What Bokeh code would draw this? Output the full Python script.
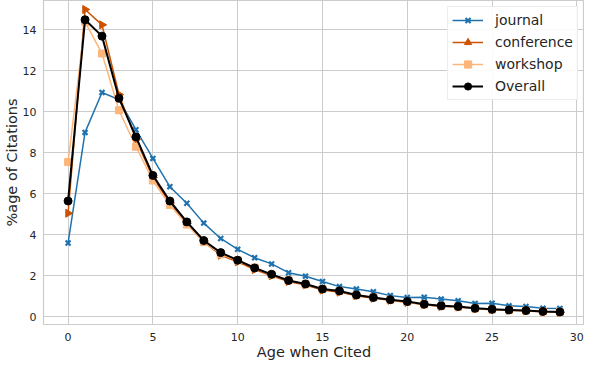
import math
from bokeh.plotting import figure
from bokeh.models import Range1d, Legend, FixedTicker, ColumnDataSource
from bokeh.embed import file_html
from bokeh.resources import INLINE

age = list(range(30))
journal = [3.6, 9.0, 10.95, 10.6, 9.13, 7.73, 6.35, 5.54, 4.57, 3.82, 3.29, 2.88, 2.58,
           2.15, 1.98, 1.72, 1.47, 1.35, 1.22, 1.03, 0.94, 0.95, 0.86, 0.78, 0.65, 0.66,
           0.53, 0.5, 0.41, 0.40]
conference = [5.05, 15.0, 14.25, 10.85, 8.65, 6.8, 5.55, 4.55, 3.65, 3.0, 2.68, 2.3, 2.0,
              1.72, 1.55, 1.3, 1.2, 1.02, 0.9, 0.8, 0.7, 0.58, 0.5, 0.47, 0.39, 0.34,
              0.31, 0.28, 0.24, 0.21]
workshop = [7.55, 14.4, 12.85, 10.08, 8.3, 6.65, 5.45, 4.5, 3.65, 3.05, 2.75, 2.4, 2.05,
            1.78, 1.58, 1.35, 1.25, 1.05, 0.95, 0.82, 0.72, 0.6, 0.52, 0.48, 0.4, 0.35,
            0.32, 0.3, 0.26, 0.22]
overall = [5.65, 14.5, 13.7, 10.67, 8.78, 6.9, 5.65, 4.63, 3.72, 3.13, 2.76, 2.38, 2.07,
           1.77, 1.6, 1.35, 1.26, 1.06, 0.94, 0.83, 0.74, 0.61, 0.53, 0.5, 0.41, 0.36,
           0.33, 0.3, 0.26, 0.23]
x_ticks = [0, 5, 10, 15, 20, 25, 30]
y_ticks = [0, 2, 4, 6, 8, 10, 12, 14]

C_J = "#1f72ad"
C_C = "#cc5200"
C_W = "#fdb57a"
C_O = "#000000"

p = figure(width=584, height=362, output_backend="svg", toolbar_location=None,
           x_range=Range1d(-1.45, 30.45), y_range=Range1d(-0.38, 15.44),
           min_border_left=0, min_border_right=0, min_border_top=0, min_border_bottom=0)
p.background_fill_color = "white"
p.outline_line_color = "#cccccc"
p.outline_line_width = 1.2

for ax in (p.xaxis[0], p.yaxis[0]):
    ax.axis_line_color = None
    ax.major_tick_line_color = None
    ax.minor_tick_line_color = None
    ax.major_tick_in = 0
    ax.major_tick_out = 0
    ax.minor_tick_in = 0
    ax.minor_tick_out = 0
    ax.major_label_text_font = "DejaVu Sans"
    ax.major_label_text_font_size = "11px"
    ax.major_label_text_color = "#262626"
    ax.axis_label_text_font = "DejaVu Sans"
    ax.axis_label_text_font_size = "14.5px"
    ax.axis_label_text_font_style = "normal"
    ax.axis_label_text_color = "#262626"

p.xaxis.ticker = FixedTicker(ticks=x_ticks)
p.yaxis.ticker = FixedTicker(ticks=y_ticks)
p.xaxis.axis_label = "Age when Cited"
p.yaxis.axis_label = "%age of Citations"
p.xaxis.major_label_standoff = 8
p.yaxis.major_label_standoff = 7
p.xaxis.axis_label_standoff = 0
p.yaxis.axis_label_standoff = 0
p.grid.grid_line_color = "#cccccc"
p.grid.grid_line_width = 1

src = ColumnDataSource(dict(age=age, journal=journal, conference=conference,
                            workshop=workshop, overall=overall,
                            ang=[-math.pi / 2] * len(age)))

items = []
lj = p.line("age", "journal", source=src, line_color=C_J, line_width=1.5)
mj = p.scatter("age", "journal", source=src, marker="x", size=7, line_color=C_J, line_width=2.2)
items.append(("journal", [lj, mj]))
lc = p.line("age", "conference", source=src, line_color=C_C, line_width=1.5)
mc = p.scatter("age", "conference", source=src, marker="triangle", angle="ang", size=8,
               fill_color=C_C, line_color=C_C)
items.append(("conference", [lc, mc]))
lw = p.line("age", "workshop", source=src, line_color=C_W, line_width=1.5)
mw = p.scatter("age", "workshop", source=src, marker="square", size=7, fill_color=C_W, line_color=C_W)
items.append(("workshop", [lw, mw]))
lo = p.line("age", "overall", source=src, line_color=C_O, line_width=2)
mo = p.scatter("age", "overall", source=src, marker="circle", size=8, fill_color=C_O, line_color=C_O)
items.append(("Overall", [lo, mo]))

legend = Legend(items=items, location="top_right")
legend.label_text_font = "DejaVu Sans"
legend.label_text_font_size = "14px"
legend.label_text_color = "#262626"
legend.border_line_color = "#d9d9d9"
legend.border_line_width = 1
legend.background_fill_alpha = 0.9
legend.glyph_width = 31
legend.glyph_height = 18
legend.label_standoff = 12
legend.spacing = 4
legend.padding = 4
legend.margin = 6
legend.label_height = 18
p.add_layout(legend)

open("out.html", "w").write(file_html(p, INLINE))
